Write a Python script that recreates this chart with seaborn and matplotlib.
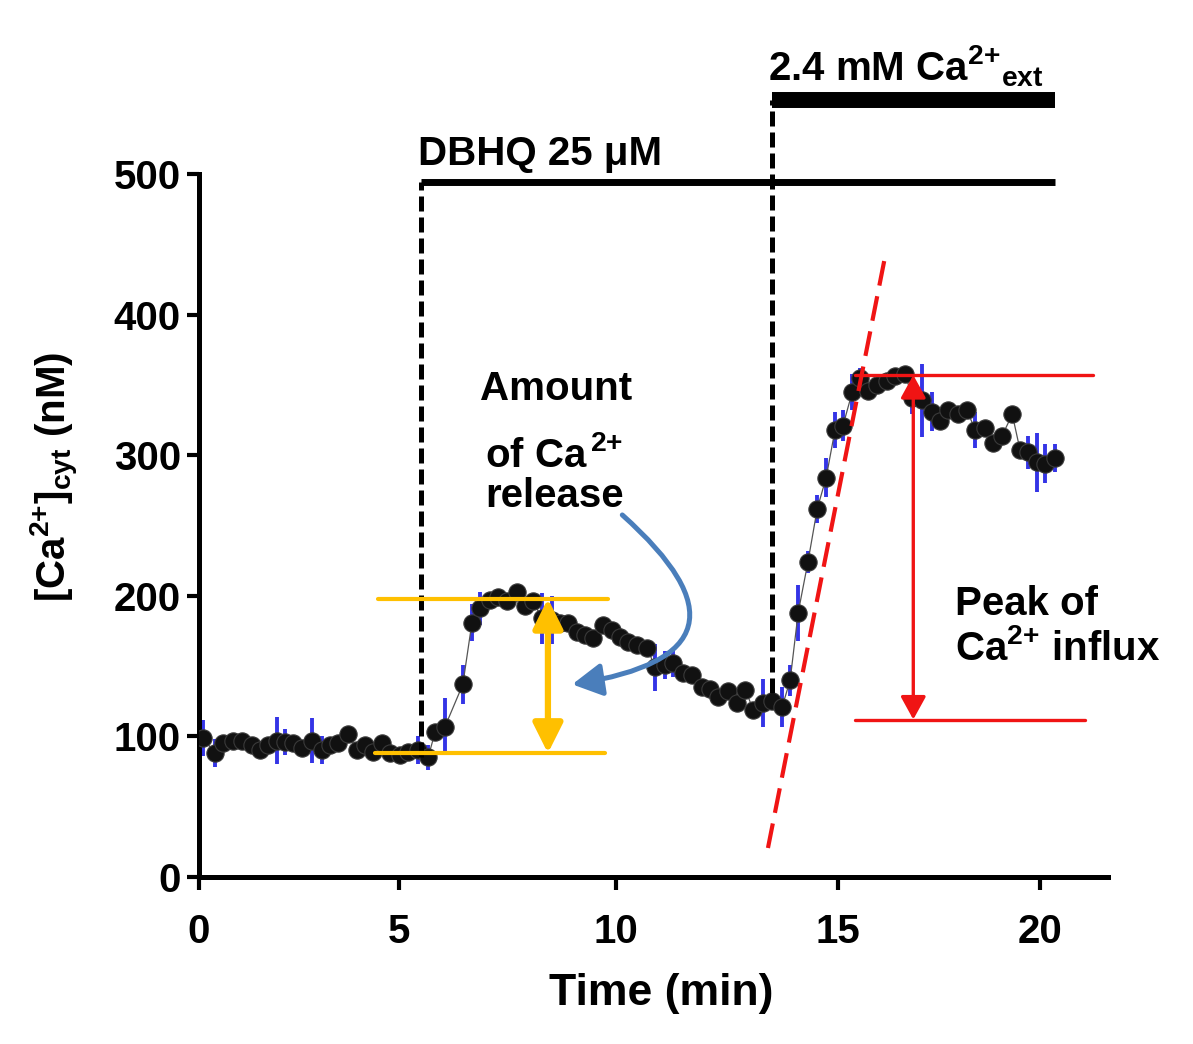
import numpy as np
import pandas as pd
import matplotlib
matplotlib.use("Agg")
import matplotlib.pyplot as plt
from matplotlib.patches import FancyArrowPatch
import seaborn as sns

# cytosolic Ca2+ trace, mean +/- SEM
time_min = [0.10, 0.40, 0.60, 0.85, 1.08, 1.33, 1.53, 1.73, 1.95, 2.15,
            2.35, 2.58, 2.83, 3.08, 3.28, 3.48, 3.73, 3.95, 4.15, 4.35,
            4.58, 4.78, 5.02, 5.21, 5.44, 5.67, 5.83, 6.06, 6.47, 6.68,
            6.87, 7.10, 7.28, 7.49, 7.72, 7.90, 8.09, 8.29, 8.53, 8.71,
            8.89, 9.10, 9.29, 9.47, 9.70, 9.91, 10.09, 10.27, 10.47, 10.70,
            10.88, 11.10, 11.28, 11.51, 11.71, 11.94, 12.12, 12.30, 12.52, 12.73,
            12.91, 13.09, 13.31, 13.51, 13.74, 13.92, 14.10, 14.32, 14.53, 14.73,
            14.93, 15.12, 15.35, 15.54, 15.74, 15.97, 16.21, 16.41, 16.66, 16.83,
            17.08, 17.33, 17.52, 17.72, 17.97, 18.19, 18.39, 18.64, 18.84, 19.06,
            19.31, 19.50, 19.70, 19.93, 20.12, 20.37]
ca_nM = [99, 88, 95, 97, 97, 94, 90, 94, 97, 96,
         95, 92, 97, 90, 94, 95, 102, 90, 94, 89,
         95, 88, 87, 89, 90, 85, 103, 107, 137, 181,
         191, 197, 199, 196, 203, 193, 196, 184, 183, 181,
         181, 174, 172, 170, 179, 176, 171, 167, 165, 163,
         149, 151, 152, 145, 144, 135, 134, 128, 132, 124,
         133, 119, 124, 125, 121, 140, 188, 224, 262, 284,
         318, 321, 345, 355, 346, 350, 353, 356, 358, 341,
         339, 331, 324, 332, 329, 332, 318, 319, 309, 314,
         329, 304, 302, 295, 294, 298]
sem_nM = [13, 10, 3, 3, 3, 3, 3, 3, 17, 9,
          3, 3, 16, 10, 3, 3, 3, 3, 3, 3,
          3, 3, 3, 3, 10, 9, 3, 20, 14, 13,
          12, 3, 3, 3, 3, 3, 3, 18, 17, 3,
          3, 3, 3, 3, 3, 3, 3, 3, 3, 3,
          17, 10, 10, 3, 3, 3, 3, 3, 3, 3,
          3, 3, 17, 3, 14, 11, 20, 8, 10, 14,
          13, 11, 13, 7, 3, 3, 3, 3, 3, 12,
          26, 14, 3, 3, 3, 3, 13, 3, 3, 3,
          3, 3, 12, 21, 14, 10]

# treatment periods and measured levels
dbhq_on, ca_on, trace_end = 5.5, 13.5, 20.37
release_base, release_peak = 88, 198
influx_base, influx_peak = 112, 357

df = pd.DataFrame({"time": time_min, "ca": ca_nM, "sem": sem_nM})

sns.set_style("ticks")
plt.rcParams["font.family"] = ["Liberation Sans", "DejaVu Sans"]
plt.rcParams["font.weight"] = "bold"
plt.rcParams["mathtext.fontset"] = "custom"
plt.rcParams["mathtext.rm"] = "Liberation Sans:bold"
plt.rcParams["mathtext.it"] = "Liberation Sans:bold"
plt.rcParams["mathtext.bf"] = "Liberation Sans:bold"
for k in ["text.color", "axes.labelcolor", "axes.edgecolor",
          "xtick.color", "ytick.color"]:
    plt.rcParams[k] = "black"

fig = plt.figure(figsize=(11.93, 10.44), dpi=100)
ax = fig.add_axes([0.1668, 0.16, 0.762, 0.6733])

# the time axis of the original figure is not evenly spaced between ticks
T_KNOTS = [-5, 0, 5, 10, 15, 20, 25]
P_KNOTS = [-1, 199, 399, 616, 838, 1040, 1242]
def fwd(t):
    return np.interp(t, T_KNOTS, P_KNOTS)
def inv(p):
    return np.interp(p, P_KNOTS, T_KNOTS)

ax.vlines(df["time"], df["ca"] - df["sem"], df["ca"] + df["sem"],
          color="#3434E6", lw=2.8, zorder=2)
sns.lineplot(data=df, x="time", y="ca", color="#555555", lw=0.9,
             ax=ax, zorder=3)
sns.scatterplot(data=df, x="time", y="ca", color="#111111", s=155,
                edgecolor="#3a3a3a", linewidth=0.8, ax=ax, zorder=4)

ax.set_xscale("function", functions=(fwd, inv))
ax.set_xlim(0, 21.68)
ax.set_ylim(0, 500)
ax.set_xticks([0, 5, 10, 15, 20])
ax.set_yticks([0, 100, 200, 300, 400, 500])
ax.set_xlabel("")
ax.set_ylabel("")
sns.despine(ax=ax)
for s in ["left", "bottom"]:
    ax.spines[s].set_linewidth(3.6)
    ax.spines[s].set_color("black")
ax.tick_params(axis="both", direction="out", length=9, width=3,
               labelsize=29, pad=4, colors="black")
ax.tick_params(axis="x", pad=17)

# treatment bars
dash = (0, (3.0, 1.2))
ax.plot([dbhq_on, dbhq_on], [85, 494], color="black", lw=3.6,
        ls=dash, clip_on=False, zorder=5)
ax.plot([ca_on, ca_on], [131, 553], color="black", lw=3.6,
        ls=dash, clip_on=False, zorder=5)
ax.plot([dbhq_on, trace_end], [494, 494], color="black", lw=5,
        solid_capstyle="butt", clip_on=False)
ax.plot([ca_on, trace_end], [553, 553], color="black", lw=11.5,
        solid_capstyle="butt", clip_on=False)

# release amplitude (yellow)
yel = "#FFC000"
ax.plot([4.47, 9.82], [release_peak, release_peak], color=yel, lw=3, zorder=6)
ax.plot([4.40, 9.75], [release_base, release_base], color=yel, lw=3, zorder=6)
ax.annotate("", xy=(8.43, release_base), xytext=(8.43, release_peak),
            arrowprops=dict(arrowstyle="<|-|>,head_length=1.0,head_width=0.5",
                            color=yel, lw=4.5, mutation_scale=18,
                            shrinkA=0, shrinkB=0), zorder=7)

# influx amplitude (red)
red = "#F01414"
ax.plot([13.42, 16.16], [20.6, 441], color=red, lw=3,
        ls=(0, (6, 2.6)), zorder=6)
ax.plot([15.42, 21.31], [influx_peak, influx_peak], color=red, lw=2.4, zorder=6)
ax.plot([15.42, 21.10], [influx_base, influx_base], color=red, lw=2.4,
        clip_on=False, zorder=6)
ax.annotate("", xy=(16.86, influx_base), xytext=(16.86, influx_peak),
            arrowprops=dict(arrowstyle="<|-|>,head_length=1.0,head_width=0.55",
                            color=red, lw=2.4, mutation_scale=14,
                            shrinkA=0, shrinkB=0), zorder=7)

# curved pointer from the label
arr = FancyArrowPatch((10.14, 257.5), (8.99, 137),
                      connectionstyle="arc3,rad=-1.06",
                      arrowstyle="-|>,head_length=1.0,head_width=0.55",
                      mutation_scale=18, color="#4A7EBB", lw=3.6,
                      shrinkA=0, shrinkB=0, zorder=8)
ax.add_patch(arr)

def fx(px):
    return px / 1193
def fy(py):
    return 1 - py / 1044

fs = 29
fig.text(fx(418), fy(165), "DBHQ 25 μM", fontsize=fs, fontweight="bold",
         va="baseline")
fig.text(fx(768), fy(80), r"2.4 mM Ca$^{2{+}}$$_{\mathrm{ext}}$", fontsize=fs,
         fontweight="bold", va="baseline")
fig.text(fx(480), fy(400), "Amount", fontsize=fs, fontweight="bold",
         va="baseline")
fig.text(fx(485), fy(467), r"of Ca$^{\,2{+}}$", fontsize=fs, fontweight="bold",
         va="baseline")
fig.text(fx(485), fy(507), "release", fontsize=fs, fontweight="bold",
         va="baseline")
fig.text(fx(955), fy(615), "Peak of", fontsize=fs, fontweight="bold",
         va="baseline")
fig.text(fx(955), fy(660), r"Ca$^{2{+}}$ influx", fontsize=fs,
         fontweight="bold", va="baseline")
fig.text(fx(661), fy(1005), "Time (min)", fontsize=32, fontweight="bold",
         ha="center", va="baseline")
fig.text(fx(55), fy(477), r"[Ca$^{2{+}}$]$_{\mathrm{cyt}}$ (nM)", fontsize=29,
         fontweight="bold", rotation=90, ha="center", va="center")

fig.savefig("out.png", dpi=100)
